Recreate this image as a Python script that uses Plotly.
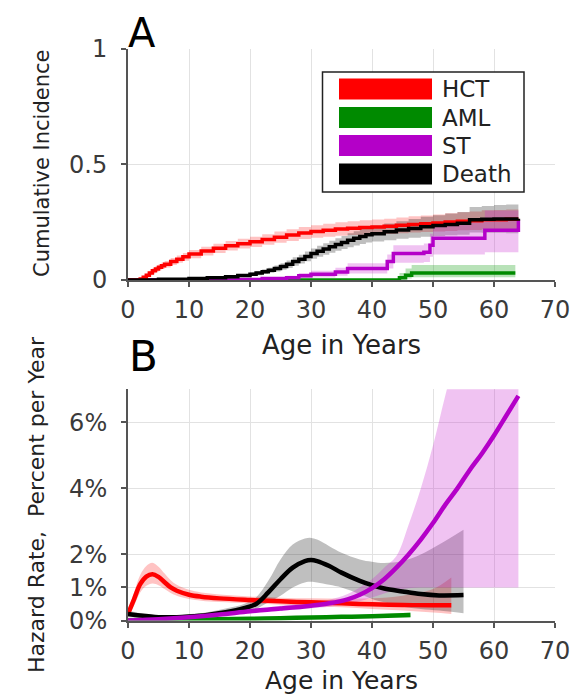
import plotly.graph_objects as go

# ---------------- data ----------------
# Panel A: cumulative incidence (step functions)
hct_age = [0, 2, 2.5, 3, 3.5, 4, 4.5, 5, 5.5, 6, 7, 8, 9, 10, 12, 14, 16, 18, 20, 22, 24, 26, 28, 30, 32, 34, 36, 38, 40, 42, 44, 46, 48, 50, 52, 54, 56, 58, 60, 62, 64]
hct_ci = [0, 0.004, 0.012, 0.02, 0.03, 0.04, 0.048, 0.055, 0.062, 0.068, 0.08, 0.09, 0.1, 0.112, 0.125, 0.137, 0.148, 0.157, 0.165, 0.175, 0.185, 0.194, 0.203, 0.21, 0.215, 0.22, 0.224, 0.227, 0.229, 0.232, 0.236, 0.24, 0.243, 0.246, 0.25, 0.254, 0.256, 0.26, 0.26, 0.262, 0.262]
hct_lo = [0, 0, 0.005, 0.012, 0.02, 0.028, 0.035, 0.042, 0.048, 0.054, 0.065, 0.074, 0.083, 0.094, 0.106, 0.117, 0.127, 0.136, 0.143, 0.152, 0.161, 0.169, 0.177, 0.183, 0.187, 0.191, 0.194, 0.196, 0.197, 0.199, 0.202, 0.205, 0.207, 0.209, 0.212, 0.215, 0.216, 0.219, 0.218, 0.219, 0.219]
hct_hi = [0, 0.008, 0.019, 0.028, 0.04, 0.052, 0.061, 0.068, 0.076, 0.082, 0.095, 0.106, 0.117, 0.13, 0.144, 0.157, 0.169, 0.178, 0.187, 0.198, 0.209, 0.219, 0.229, 0.237, 0.243, 0.249, 0.254, 0.258, 0.261, 0.265, 0.27, 0.275, 0.279, 0.283, 0.288, 0.293, 0.296, 0.301, 0.302, 0.305, 0.305]

death_age = [0, 5, 10, 13, 16, 18, 20, 21, 22, 23, 24, 25, 26, 27, 28, 29, 30, 31, 32, 33, 34, 35, 36, 37, 38, 39, 40, 42, 44, 46, 48, 50, 52, 54, 56, 58, 60, 62, 64]
death_ci = [0, 0.003, 0.007, 0.01, 0.014, 0.019, 0.025, 0.03, 0.036, 0.042, 0.05, 0.058, 0.068, 0.08, 0.09, 0.102, 0.114, 0.124, 0.134, 0.144, 0.153, 0.162, 0.172, 0.18, 0.188, 0.195, 0.2, 0.208, 0.216, 0.223, 0.23, 0.235, 0.24, 0.245, 0.26, 0.262, 0.264, 0.264, 0.265]
death_lo = [0, 0.001, 0.004, 0.006, 0.009, 0.013, 0.017, 0.021, 0.026, 0.031, 0.037, 0.044, 0.052, 0.062, 0.071, 0.081, 0.092, 0.1, 0.109, 0.118, 0.126, 0.134, 0.142, 0.149, 0.156, 0.162, 0.166, 0.172, 0.178, 0.182, 0.187, 0.19, 0.193, 0.196, 0.205, 0.204, 0.204, 0.202, 0.2]
death_hi = [0, 0.005, 0.01, 0.014, 0.019, 0.025, 0.033, 0.039, 0.046, 0.053, 0.063, 0.072, 0.084, 0.098, 0.109, 0.123, 0.136, 0.148, 0.159, 0.17, 0.18, 0.19, 0.202, 0.211, 0.22, 0.228, 0.234, 0.244, 0.254, 0.264, 0.273, 0.28, 0.287, 0.294, 0.315, 0.32, 0.324, 0.326, 0.33]

st_age = [0, 18, 22, 26, 28, 30, 34, 36, 41.5, 42.5, 43.5, 48.5, 49.5, 50, 58, 58.5, 63.8, 64]
st_ci = [0, 0.002, 0.006, 0.01, 0.018, 0.025, 0.035, 0.05, 0.05, 0.08, 0.115, 0.12, 0.15, 0.18, 0.18, 0.215, 0.215, 0.26]
st_lo = [0, 0, 0.001, 0.003, 0.007, 0.011, 0.018, 0.028, 0.028, 0.05, 0.075, 0.078, 0.1, 0.11, 0.11, 0.12, 0.12, 0.13]
st_hi = [0, 0.005, 0.011, 0.018, 0.03, 0.04, 0.053, 0.072, 0.072, 0.11, 0.15, 0.158, 0.2, 0.25, 0.25, 0.3, 0.3, 0.38]

aml_age = [0, 44.5, 45.5, 46.5, 63.5]
aml_ci = [0, 0.01, 0.02, 0.03, 0.03]
aml_lo = [0, 0.002, 0.006, 0.012, 0.012]
aml_hi = [0, 0.03, 0.05, 0.065, 0.065]

# Panel B: hazard rate, percent per year (smooth curves)
hct_h_age = [0, 1, 2, 3, 4, 5, 6, 7, 8, 10, 12, 15, 20, 25, 30, 35, 40, 45, 50, 53]
hct_h = [0.2, 0.65, 1.1, 1.33, 1.4, 1.32, 1.16, 1.0, 0.9, 0.78, 0.72, 0.67, 0.62, 0.58, 0.55, 0.52, 0.49, 0.47, 0.46, 0.46]
hct_h_lo = [0.1, 0.45, 0.85, 1.05, 1.12, 1.07, 0.95, 0.83, 0.75, 0.65, 0.6, 0.56, 0.52, 0.48, 0.44, 0.4, 0.35, 0.3, 0.24, 0.2]
hct_h_hi = [0.3, 0.85, 1.38, 1.65, 1.75, 1.63, 1.42, 1.22, 1.08, 0.93, 0.85, 0.79, 0.73, 0.69, 0.67, 0.66, 0.67, 0.75, 0.95, 1.3]

death_h_age = [0, 2, 5, 8, 10, 13, 16, 19, 21, 23, 25, 27, 29, 30, 31, 33, 35, 38, 40, 42, 45, 48, 51, 55]
death_h = [0.2, 0.15, 0.1, 0.1, 0.12, 0.17, 0.25, 0.37, 0.5, 0.85, 1.25, 1.6, 1.8, 1.83, 1.8, 1.65, 1.45, 1.2, 1.07, 0.97, 0.88, 0.8, 0.76, 0.77]
death_h_lo = [0.1, 0.08, 0.05, 0.05, 0.06, 0.1, 0.16, 0.26, 0.35, 0.55, 0.75, 1.0, 1.15, 1.17, 1.15, 1.08, 1.0, 0.8, 0.65, 0.55, 0.42, 0.35, 0.3, 0.22]
death_h_hi = [0.3, 0.22, 0.16, 0.16, 0.19, 0.25, 0.36, 0.5, 0.7, 1.2, 1.85, 2.3, 2.48, 2.5, 2.45, 2.25, 2.05, 1.85, 1.78, 1.74, 1.8, 2.0, 2.3, 2.75]

st_h_age = [0, 5, 10, 15, 20, 25, 30, 33, 36, 38, 40, 42, 44, 46, 48, 50, 52, 54, 56, 58, 60, 62, 64]
st_h = [0, 0.04, 0.1, 0.18, 0.28, 0.36, 0.45, 0.52, 0.64, 0.78, 0.98, 1.25, 1.6, 2.0, 2.45, 2.95, 3.5, 4.0, 4.55, 5.05, 5.6, 6.2, 6.8]
st_h_lo = [0, 0.02, 0.07, 0.13, 0.22, 0.29, 0.37, 0.42, 0.5, 0.58, 0.7, 0.82, 0.92, 0.98, 1.0, 1.0, 1.0, 1.0, 1.0, 1.0, 1.0, 1.0, 1.0]
st_h_hi = [0, 0.06, 0.14, 0.23, 0.35, 0.45, 0.55, 0.63, 0.8, 1.0, 1.25, 1.6, 1.95, 2.9, 4.0, 5.3, 6.8, 8.2, 9.5, 10.5, 11, 11.5, 12]

aml_h_age = [0, 5, 10, 15, 20, 25, 30, 35, 40, 46.3]
aml_h = [0, 0.01, 0.02, 0.035, 0.05, 0.07, 0.09, 0.11, 0.13, 0.17]
aml_h_lo = [0, 0, 0, 0.01, 0.02, 0.035, 0.05, 0.065, 0.08, 0.1]
aml_h_hi = [0.01, 0.03, 0.05, 0.065, 0.085, 0.105, 0.13, 0.155, 0.18, 0.24]

x_ticks = [0, 10, 20, 30, 40, 50, 60, 70]
ya_ticks = [0, 0.5, 1]
ya_text = ["0", "0.5", "1"]
yb_ticks = [0, 1, 2, 4, 6]
yb_text = ["0%", "1%", "2%", "4%", "6%"]
legend_names = ["HCT", "AML", "ST", "Death"]

# ---------------- style ----------------
OFF = 8                      # page body margin of the browser
W, H = 584 - OFF, 697 - OFF  # figure size that fits the window
FONT = "DejaVu Sans"
C = {"HCT": "#ff0000", "AML": "#008a00", "ST": "#b400c8", "Death": "#000000"}
BAND = {"HCT": "rgba(255,40,40,0.28)", "AML": "rgba(0,150,0,0.28)",
        "ST": "rgba(200,40,210,0.28)", "Death": "rgba(0,0,0,0.25)"}


def PX(x):
    return (x - OFF) / W


def PY(y):
    return 1 - (y - OFF) / H


fig = go.Figure()


def band(x, lo, hi, name, xa, ya, shape):
    fig.add_trace(go.Scatter(x=x, y=lo, mode="lines", line=dict(width=0, shape=shape),
                             xaxis=xa, yaxis=ya, hoverinfo="skip", showlegend=False))
    fig.add_trace(go.Scatter(x=x, y=hi, mode="lines", line=dict(width=0, shape=shape),
                             fill="tonexty", fillcolor=BAND[name],
                             xaxis=xa, yaxis=ya, hoverinfo="skip", showlegend=False))


def line(x, y, name, xa, ya, shape, w):
    fig.add_trace(go.Scatter(x=x, y=y, mode="lines", name=name,
                             line=dict(color=C[name], width=w, shape=shape),
                             xaxis=xa, yaxis=ya, showlegend=False))


# Panel A
band(hct_age, hct_lo, hct_hi, "HCT", "x", "y", "hv")
band(death_age, death_lo, death_hi, "Death", "x", "y", "hv")
band(st_age, st_lo, st_hi, "ST", "x", "y", "hv")
band(aml_age, aml_lo, aml_hi, "AML", "x", "y", "hv")
line(aml_age, aml_ci, "AML", "x", "y", "hv", 3.5)
line(st_age, st_ci, "ST", "x", "y", "hv", 3.5)
line(hct_age, hct_ci, "HCT", "x", "y", "hv", 3.5)
line(death_age, death_ci, "Death", "x", "y", "hv", 3.5)

# Panel B
band(hct_h_age, hct_h_lo, hct_h_hi, "HCT", "x2", "y2", "spline")
band(death_h_age, death_h_lo, death_h_hi, "Death", "x2", "y2", "spline")
band(st_h_age, st_h_lo, st_h_hi, "ST", "x2", "y2", "spline")
band(aml_h_age, aml_h_lo, aml_h_hi, "AML", "x2", "y2", "spline")
line(aml_h_age, aml_h, "AML", "x2", "y2", "spline", 4.5)
line(hct_h_age, hct_h, "HCT", "x2", "y2", "spline", 4.5)
line(death_h_age, death_h, "Death", "x2", "y2", "spline", 4.5)
line(st_h_age, st_h, "ST", "x2", "y2", "spline", 4.5)

axis_common = dict(showgrid=True, gridcolor="#e2e2e2", gridwidth=1, zeroline=False,
                   showline=True, linecolor="#555555", linewidth=2,
                   ticks="outside", ticklen=5, tickcolor="#555555", tickwidth=1.5,
                   tickfont=dict(family=FONT, size=24, color="#3a3a3a"),
                   automargin=False, fixedrange=True)

fig.update_layout(
    width=W, height=H, margin=dict(l=0, r=0, t=0, b=0),
    paper_bgcolor="white", plot_bgcolor="white", showlegend=False,
    template="none",
    xaxis=dict(domain=[PX(128), PX(555)], range=[0, 70], anchor="y",
               tickvals=x_ticks, ticklabelstandoff=2, **axis_common),
    yaxis=dict(domain=[PY(280), PY(48.5)], range=[0, 1], anchor="x",
               tickvals=ya_ticks, ticktext=ya_text, ticklabelstandoff=9, **axis_common),
    xaxis2=dict(domain=[PX(128), PX(555)], range=[0, 70], anchor="y2",
                tickvals=x_ticks, ticklabelstandoff=3, **axis_common),
    yaxis2=dict(domain=[PY(620.5), PY(389.3)], range=[0, 7], anchor="x2",
                tickvals=yb_ticks, ticktext=yb_text, ticklabelstandoff=9, **axis_common),
)

ann = []
# panel letters
ann.append(dict(text="A", x=PX(126), y=PY(33), xanchor="left", yanchor="middle",
                font=dict(family=FONT, size=40, color="black")))
ann.append(dict(text="B", x=PX(127), y=PY(357), xanchor="left", yanchor="middle",
                font=dict(family=FONT, size=42, color="black")))
# axis titles
ann.append(dict(text="Age in Years", x=PX(341.5), y=PY(345), xanchor="center", yanchor="middle",
                font=dict(family=FONT, size=26, color="#222222")))
ann.append(dict(text="Age in Years", x=PX(341.5), y=PY(697), xanchor="center", yanchor="bottom",
                font=dict(family=FONT, size=25, color="#222222")))
ann.append(dict(text="Cumulative Incidence", x=PX(42), y=PY(164), textangle=-90,
                xanchor="center", yanchor="middle",
                font=dict(family=FONT, size=21, color="#222222")))
ann.append(dict(text="Hazard Rate,  Percent per Year", x=PX(36), y=PY(505), textangle=-90,
                xanchor="center", yanchor="middle",
                font=dict(family=FONT, size=22, color="#222222")))

# legend (panel A)
shapes = [dict(type="rect", xref="paper", yref="paper", x0=PX(322.5), x1=PX(524),
               y0=PY(192), y1=PY(72), line=dict(color="#222222", width=1.5), fillcolor="white",
               layer="above")]
row_tops = [78.5, 107, 135, 163.5]
for name, top in zip(legend_names, row_tops):
    shapes.append(dict(type="rect", xref="paper", yref="paper", x0=PX(339), x1=PX(432),
                       y0=PY(top + 21), y1=PY(top), line=dict(width=0), fillcolor=C[name],
                       layer="above"))
    ann.append(dict(text=name, x=PX(440), y=PY(top + 10.5), xanchor="left", yanchor="middle",
                    font=dict(family=FONT, size=23, color="#222222")))

for a in ann:
    a.update(xref="paper", yref="paper", showarrow=False)
fig.update_layout(annotations=ann, shapes=shapes)

fig.write_html("out.html")
